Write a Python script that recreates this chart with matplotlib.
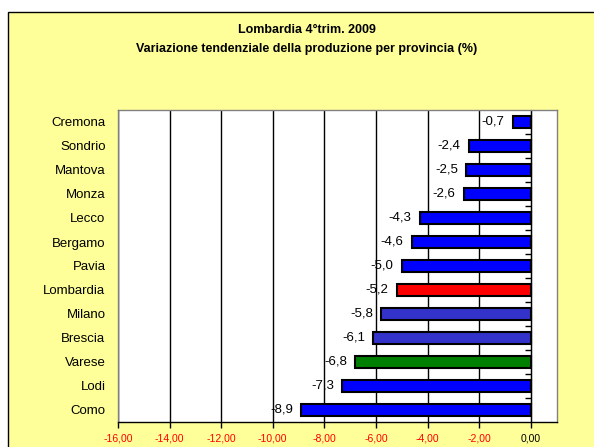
import matplotlib.pyplot as plt
from matplotlib.patches import Rectangle

# DATA
province = ["Cremona", "Sondrio", "Mantova", "Monza", "Lecco", "Bergamo", "Pavia",
            "Lombardia", "Milano", "Brescia", "Varese", "Lodi", "Como"]
variazione = [-0.7, -2.4, -2.5, -2.6, -4.3, -4.6, -5.0, -5.2, -5.8, -6.1, -6.8, -7.3, -8.9]
colori = ["#0000FF"] * 7 + ["#FF0000", "#3333CC", "#3333CC", "#008000", "#0000FF", "#0000FF"]
xticks = [-16, -14, -12, -10, -8, -6, -4, -2, 0]

plt.rcParams["font.family"] = ["Liberation Sans", "DejaVu Sans"]

fig = plt.figure(figsize=(5.94, 4.47), dpi=100)
fig.patch.set_facecolor("white")

# yellow chart panel
panel = Rectangle((8 / 594, -0.05), 1.0, 1 - 12 / 447 + 0.05, transform=fig.transFigure,
                  facecolor="#FFFF99", edgecolor="black", lw=1, zorder=-5)
fig.add_artist(panel)

fig.text(0.517, 1 - 30 / 447, "Lombardia 4°trim. 2009", ha="center", va="center",
         fontsize=9, fontweight="bold")
fig.text(0.517, 1 - 49 / 447, "Variazione tendenziale della produzione per provincia (%)",
         ha="center", va="center", fontsize=9, fontweight="bold")

ax = fig.add_axes([118 / 594, 1 - 422 / 447, (557 - 118) / 594, (422 - 110) / 447])
ax.set_facecolor("white")

pos = list(range(len(province)))
ax.barh(pos, variazione, height=0.5, color=colori, edgecolor="black", lw=1.5, zorder=3)

for p, v in zip(pos, variazione):
    ax.annotate(f"{v:.1f}".replace(".", ","), (v, p), xytext=(-6, 0),
                textcoords="offset points", ha="right", va="center", fontsize=9.5, zorder=4)

ax.set_xlim(-16, 1.02)
ax.set_ylim(len(province) - 0.5, -0.5)
ax.set_yticks(pos)
ax.set_yticklabels(province, fontsize=9.5)
ax.tick_params(axis="y", length=0, pad=9)

ax.set_xticks(xticks)
ax.set_xticklabels([f"{t:.2f}".replace(".", ",") for t in xticks], fontsize=7.5)
for lbl, t in zip(ax.get_xticklabels(), xticks):
    lbl.set_color("black" if t == 0 else "red")
ax.tick_params(axis="x", direction="out", length=4, width=1, pad=4)

ax.set_axisbelow(True)
ax.grid(axis="x", color="black", lw=1)

for s in ["left", "top", "right"]:
    ax.spines[s].set_color("#808080")
    ax.spines[s].set_linewidth(1)
ax.spines["bottom"].set_color("black")
ax.spines["bottom"].set_linewidth(1)

# y axis at zero with ticks between categories
yax = ax.secondary_yaxis(16 / 17.02)
yax.set_yticks([p + 0.5 for p in pos[:-1]])
yax.set_yticklabels([])
yax.tick_params(direction="in", length=4, width=1)
yax.spines["left"].set_color("black")

fig.savefig("out.png", dpi=100)
